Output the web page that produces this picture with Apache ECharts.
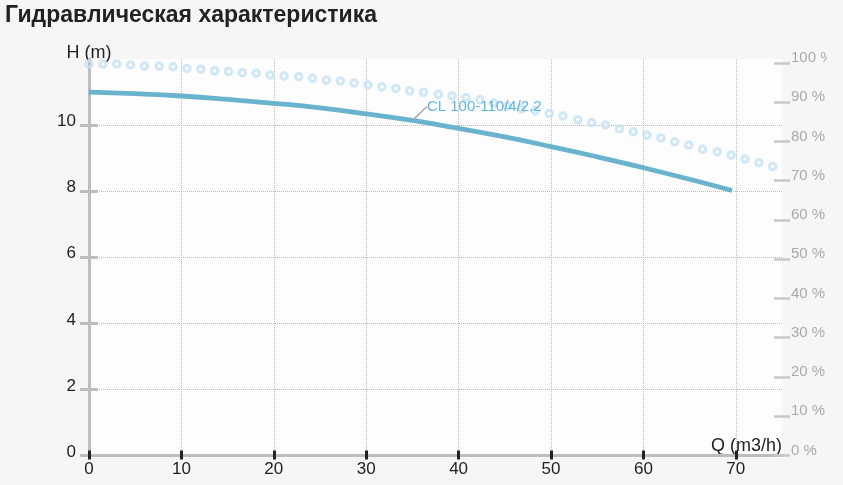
<!DOCTYPE html>
<html><head><meta charset="utf-8">
<script src="https://cdn.jsdelivr.net/npm/echarts@6/dist/echarts.min.js"></script>
<style>
html,body{margin:0;padding:0;background:#f6f6f6;}
#c{width:827px;height:485px;}
</style></head><body><div id="c"></div>
<script>
const titleText = 'Гидравлическая характеристика';
const xTicks = [0, 10, 20, 30, 40, 50, 60, 70];
const yTicks = [0, 2, 4, 6, 8, 10];
const effTicks = [0, 10, 20, 30, 40, 50, 60, 70, 80, 90, 100];
const curveName = 'CL 100-110/4/2.2';
// pump head curve (Q m3/h, H m)
const flowQ = [0, 5, 10, 15, 20, 25, 30, 35, 40, 45, 50, 55, 60, 65, 69.6];
const headH = [11.0, 10.95, 10.88, 10.78, 10.66, 10.52, 10.34, 10.14, 9.90, 9.64, 9.35, 9.04, 8.71, 8.36, 8.02];
// efficiency points (Q m3/h, %)
const effQ = [0, 1.5, 3.0, 4.5, 6.0, 7.6, 9.1, 10.6, 12.1, 13.6, 15.1, 16.6, 18.1, 19.6, 21.1, 22.7, 24.2, 25.7, 27.2, 28.7,
  30.2, 31.7, 33.2, 34.7, 36.2, 37.8, 39.3, 40.8, 42.3, 43.8, 45.3, 46.8, 48.3, 49.8, 51.3, 52.9, 54.4, 55.9, 57.4, 58.9,
  60.4, 61.9, 63.4, 64.9, 66.4, 68.0, 69.5, 71.0, 72.5, 74.0];
const effPct = [99.7, 99.7, 99.7, 99.5, 99.2, 99.2, 99.0, 98.6, 98.4, 98.0, 97.8, 97.5, 97.4, 96.9, 96.7, 96.5, 96.1, 95.6, 95.4, 94.9,
  94.4, 93.9, 93.5, 92.9, 92.5, 92.0, 91.6, 91.1, 90.6, 89.8, 89.0, 88.3, 87.8, 87.1, 86.5, 85.5, 84.8, 84.2, 83.2, 82.5,
  81.6, 80.9, 79.9, 79.1, 78.0, 77.4, 76.5, 75.5, 74.6, 73.6];
const labelQ = 35;
const labelH = 10.14;

const FONT = 'Arial, "Liberation Sans", sans-serif';
const chart = echarts.init(document.getElementById('c'), null, {renderer: 'canvas'});
const gridBox = {left: 89, right: 45, top: 59, bottom: 29.5, containLabel: false, outerBoundsMode: 'none'};
const dotted = (colors) => ({show: true, lineStyle: {type: 'dotted', width: 1, color: colors}});

chart.setOption({
  animation: false,
  textStyle: {fontFamily: FONT},
  title: {text: titleText, left: 5, top: 4, padding: 0, textStyle: {fontSize: 23, fontWeight: 'bold', color: '#222', fontFamily: FONT}},
  grid: [
    Object.assign({show: true, backgroundColor: '#fdfdfd', borderWidth: 0}, gridBox),
    Object.assign({show: false}, gridBox)
  ],
  xAxis: [
    {gridIndex: 0, type: 'value', min: 0, max: 75, interval: 10,
     axisLine: {show: true, lineStyle: {color: '#bdbdbd', width: 3}},
     axisTick: {show: true, customValues: xTicks, length: 4, lineStyle: {color: '#222', width: 3}},
     axisLabel: {customValues: xTicks, margin: 5, fontSize: 17, color: '#222', fontFamily: FONT},
     splitLine: dotted(['transparent', '#bbb', '#bbb', '#bbb', '#bbb', '#bbb', '#bbb', '#bbb', 'transparent']),
     name: 'Q (m3/h)', nameLocation: 'end', nameGap: 0,
     nameTextStyle: {align: 'right', verticalAlign: 'bottom', fontSize: 18, color: '#222', fontFamily: FONT}},
    {gridIndex: 1, type: 'value', min: 0, max: 75, interval: 10,
     axisLine: {show: false},
     axisTick: {show: true, inside: true, customValues: xTicks, length: 5, lineStyle: {color: '#222', width: 3}},
     axisLabel: {show: false}, splitLine: {show: false}}
  ],
  yAxis: [
    {gridIndex: 0, type: 'value', position: 'left', min: 0, max: 12, interval: 2,
     axisLine: {show: true, lineStyle: {color: '#bdbdbd', width: 3}},
     axisTick: {show: true, customValues: yTicks, length: 9, lineStyle: {color: '#bdbdbd', width: 3}},
     axisLabel: {customValues: yTicks, margin: 13, fontSize: 17, color: '#222', verticalAlign: 'bottom', lineHeight: 7, fontFamily: FONT},
     splitLine: dotted(['transparent', '#bbb', '#bbb', '#bbb', '#bbb', '#bbb', 'transparent']),
     name: 'H (m)', nameLocation: 'end', nameGap: 6,
     nameTextStyle: {align: 'center', verticalAlign: 'middle', fontSize: 18, color: '#222', fontFamily: FONT}},
    {gridIndex: 0, type: 'value', position: 'right', min: 0, max: 101, interval: 10, offset: -8,
     axisLine: {show: false},
     axisTick: {show: true, customValues: effTicks, length: 16, lineStyle: {color: '#c8c8c8', width: 2.5}},
     axisLabel: {customValues: effTicks, formatter: '{value} %', margin: 17, fontSize: 15, color: '#aaa', verticalAlign: 'bottom', lineHeight: 10, fontFamily: FONT},
     splitLine: {show: false}},
    {gridIndex: 1, type: 'value', position: 'left', min: 0, max: 12, interval: 2,
     axisLine: {show: false},
     axisTick: {show: true, inside: true, customValues: yTicks, length: 9, lineStyle: {color: '#bdbdbd', width: 3}},
     axisLabel: {show: false}, splitLine: {show: false}}
  ],
  series: [
    {type: 'scatter', xAxisIndex: 0, yAxisIndex: 1, silent: true, z: 2,
     data: effQ.map((q, i) => [q, effPct[i]]),
     symbol: 'circle', symbolSize: 6.5,
     itemStyle: {color: 'rgba(255,255,255,0)', borderColor: '#c4e1f2', borderWidth: 3}},
    {type: 'line', xAxisIndex: 0, yAxisIndex: 0, z: 3, smooth: true, showSymbol: false,
     data: flowQ.map((q, i) => [q, headH[i]]),
     lineStyle: {color: '#6ab3cf', width: 4.8}},
    {type: 'scatter', xAxisIndex: 0, yAxisIndex: 0, z: 4, silent: true,
     data: [[labelQ, labelH]], symbolSize: 1, itemStyle: {color: 'rgba(0,0,0,0)'},
     label: {show: true, position: 'right', distance: 0, formatter: curveName, color: '#3aa0d8', fontSize: 15, fontFamily: FONT},
     labelLayout: {dx: 14, dy: -14},
     labelLine: {show: true, lineStyle: {color: '#aaa', width: 1.5}}}
  ]
});
</script></body></html>
